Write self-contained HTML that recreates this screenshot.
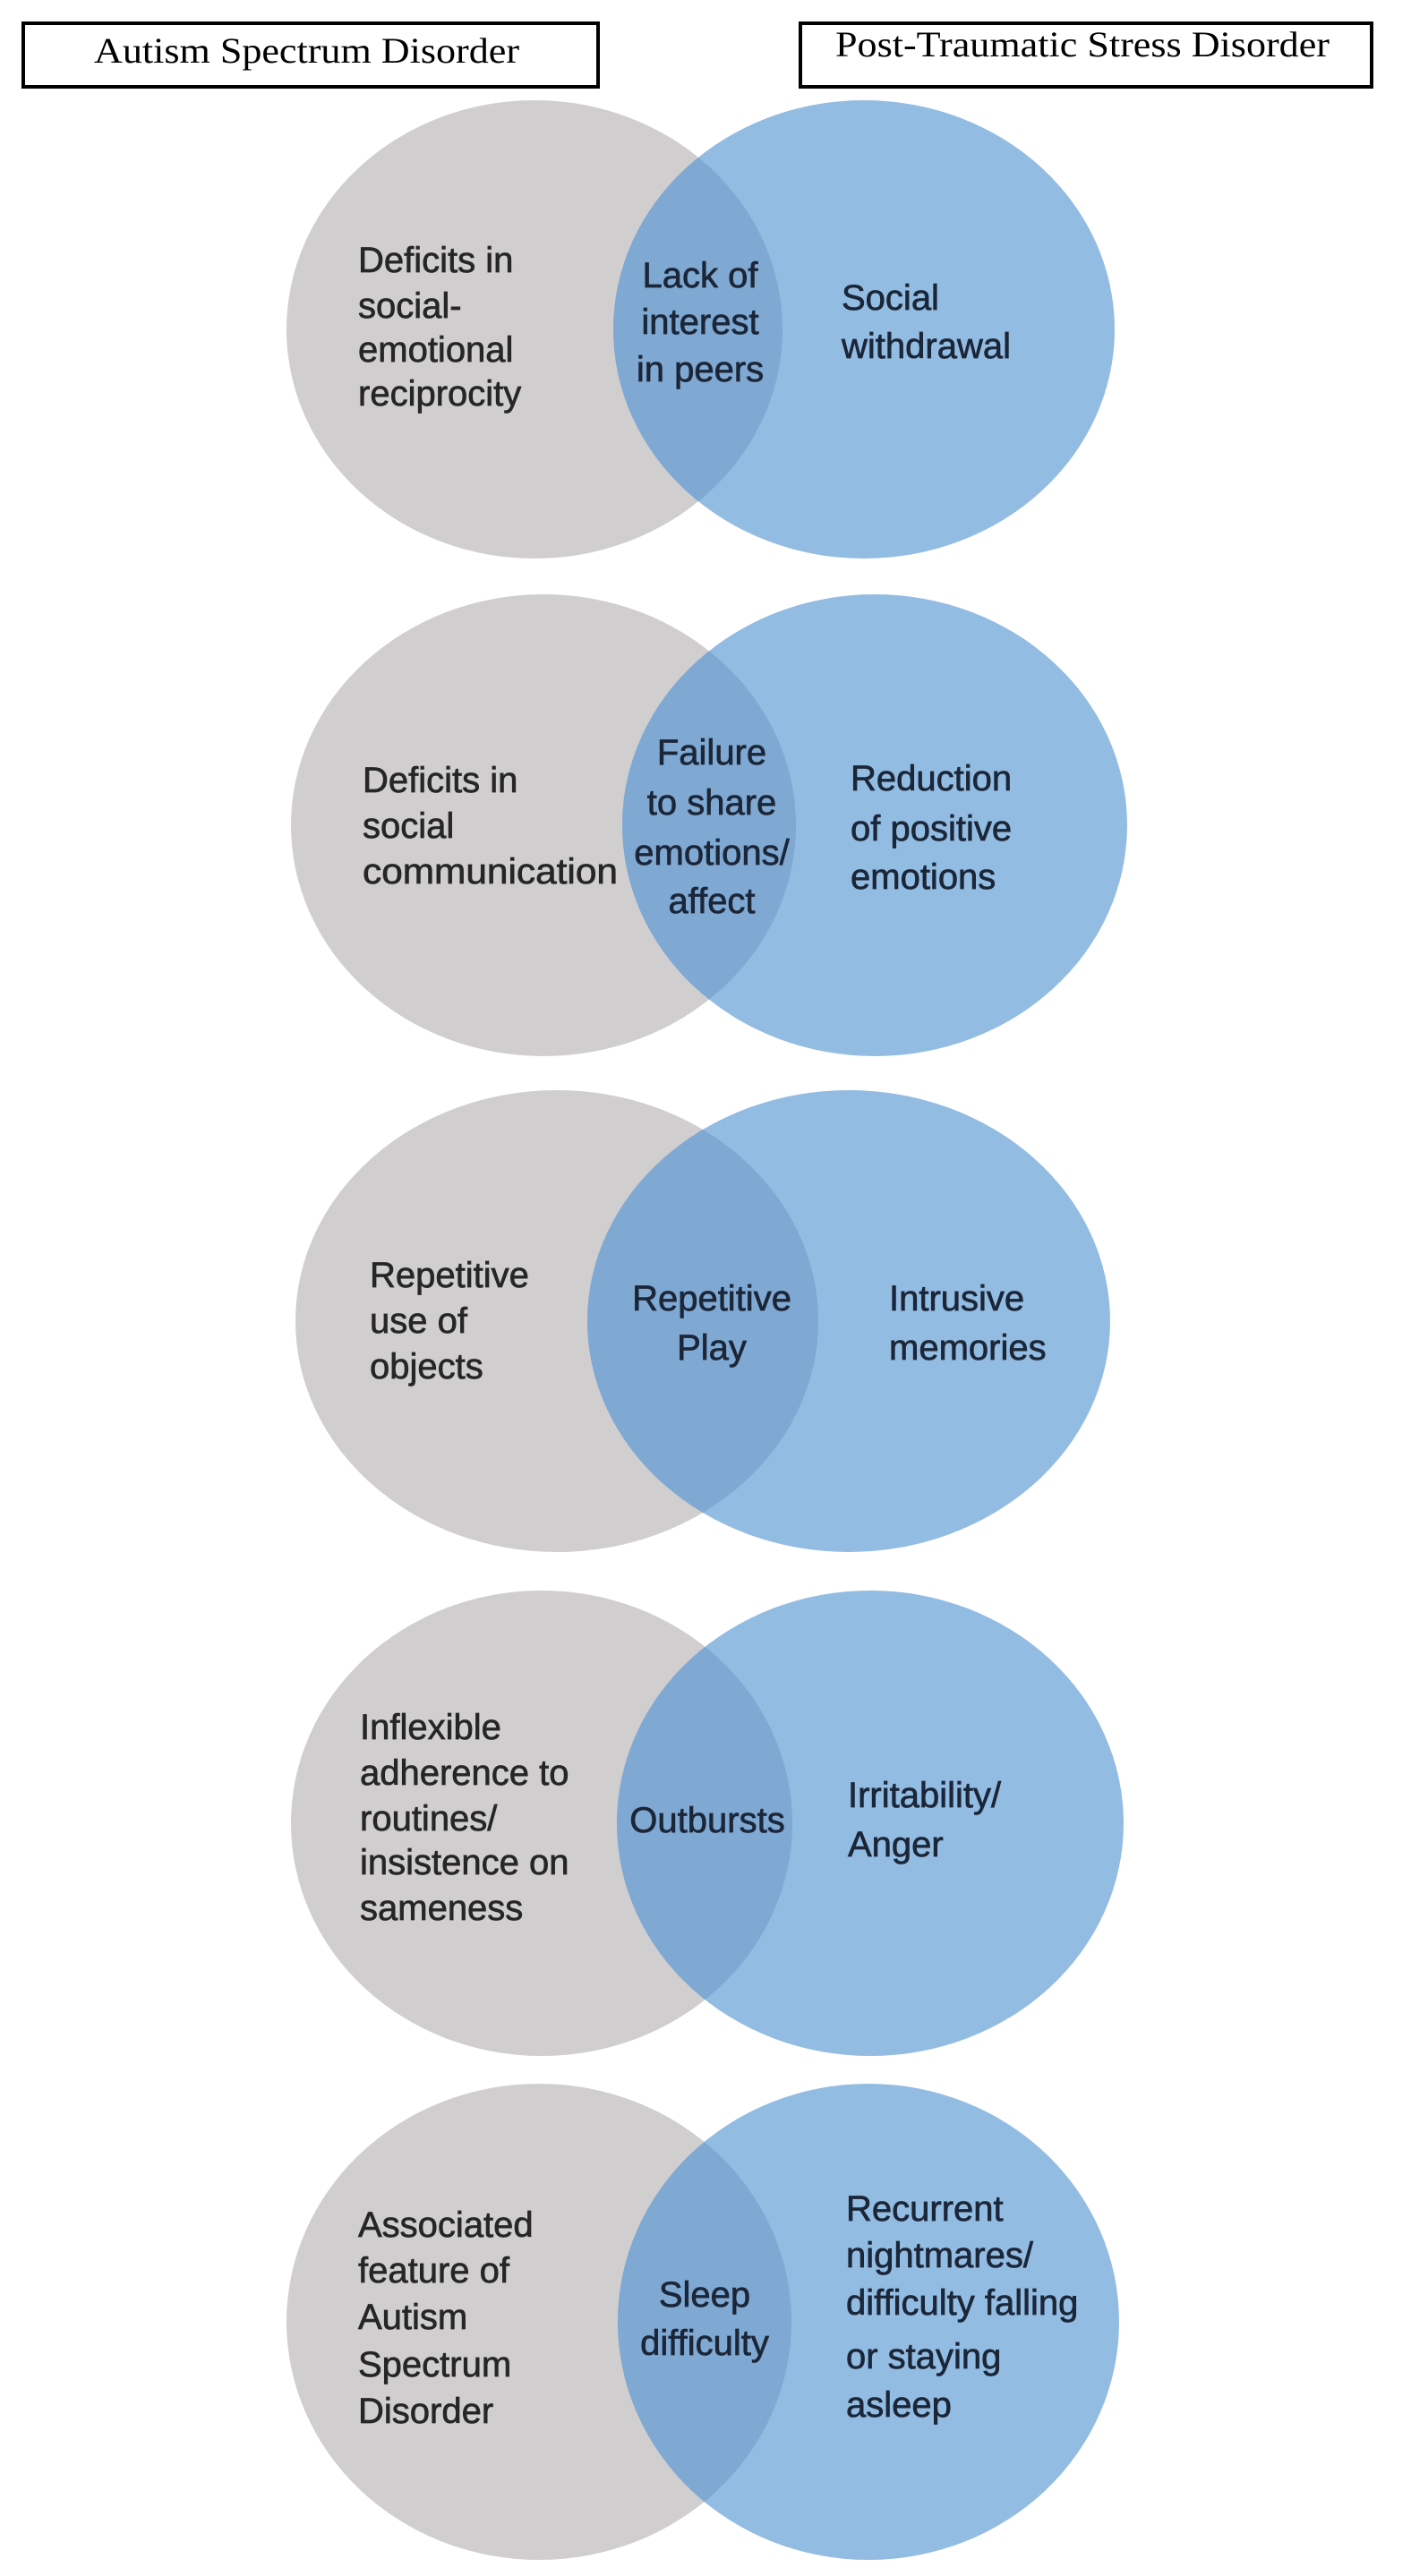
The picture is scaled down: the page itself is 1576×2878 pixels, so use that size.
<!DOCTYPE html>
<html><head><meta charset="utf-8"><style>
html,body{margin:0;padding:0;background:#fff;}
svg{display:block;}
.t{font-family:"Liberation Sans",sans-serif;font-size:40px;fill:#262626;stroke:#262626;stroke-width:0.7;}
.b{fill:#1b2638;stroke:#1b2638;}
.h{font-family:"Liberation Serif",serif;font-size:40px;fill:#000;}
</style></head><body>
<svg width="1576" height="2878" viewBox="0 0 1576 2878" xmlns="http://www.w3.org/2000/svg">
<rect x="26" y="26" width="642" height="71" fill="#fff" stroke="#000" stroke-width="4"/>
<rect x="894" y="26" width="638" height="71" fill="#fff" stroke="#000" stroke-width="4"/>
<text class="h" x="105" y="70" textLength="475" lengthAdjust="spacingAndGlyphs">Autism Spectrum Disorder</text>
<text class="h" x="933" y="63" textLength="552" lengthAdjust="spacingAndGlyphs">Post-Traumatic Stress Disorder</text>
<defs>
<clipPath id="c1"><ellipse cx="597" cy="368" rx="277" ry="256"/></clipPath>
<clipPath id="c2"><ellipse cx="607" cy="922" rx="282" ry="258"/></clipPath>
<clipPath id="c3"><ellipse cx="622" cy="1476" rx="292" ry="258"/></clipPath>
<clipPath id="c4"><ellipse cx="605" cy="2037" rx="280" ry="260"/></clipPath>
<clipPath id="c5"><ellipse cx="602" cy="2594" rx="282" ry="266"/></clipPath>
</defs>
<ellipse cx="597" cy="368" rx="277" ry="256" fill="#d0cecf"/>
<ellipse cx="965" cy="368" rx="280" ry="256" fill="#93bce2"/>
<ellipse cx="965" cy="368" rx="280" ry="256" fill="#7fa8d2" clip-path="url(#c1)"/>
<ellipse cx="607" cy="922" rx="282" ry="258" fill="#d0cecf"/>
<ellipse cx="977" cy="922" rx="282" ry="258" fill="#93bce2"/>
<ellipse cx="977" cy="922" rx="282" ry="258" fill="#7fa8d2" clip-path="url(#c2)"/>
<ellipse cx="622" cy="1476" rx="292" ry="258" fill="#d0cecf"/>
<ellipse cx="948" cy="1476" rx="292" ry="258" fill="#93bce2"/>
<ellipse cx="948" cy="1476" rx="292" ry="258" fill="#7fa8d2" clip-path="url(#c3)"/>
<ellipse cx="605" cy="2037" rx="280" ry="260" fill="#d0cecf"/>
<ellipse cx="972" cy="2037" rx="283" ry="260" fill="#93bce2"/>
<ellipse cx="972" cy="2037" rx="283" ry="260" fill="#7fa8d2" clip-path="url(#c4)"/>
<ellipse cx="602" cy="2594" rx="282" ry="266" fill="#d0cecf"/>
<ellipse cx="970" cy="2594" rx="280" ry="266" fill="#93bce2"/>
<ellipse cx="970" cy="2594" rx="280" ry="266" fill="#7fa8d2" clip-path="url(#c5)"/>

<text class="t" x="400" y="304">Deficits in</text>
<text class="t" x="400" y="355">social-</text>
<text class="t" x="400" y="404">emotional</text>
<text class="t" x="400" y="453">reciprocity</text>
<g class="t b" text-anchor="middle">
<text x="782" y="321">Lack of</text>
<text x="782" y="373">interest</text>
<text x="782" y="426">in peers</text>
</g>
<text class="t b" x="940" y="346">Social</text>
<text class="t b" x="940" y="400">withdrawal</text>

<text class="t" x="405" y="885">Deficits in</text>
<text class="t" x="405" y="936">social</text>
<text class="t" x="405" y="987" textLength="285" lengthAdjust="spacingAndGlyphs">communication</text>
<g class="t b" text-anchor="middle">
<text x="795" y="854">Failure</text>
<text x="795" y="910">to share</text>
<text x="795" y="966">emotions/</text>
<text x="795" y="1020">affect</text>
</g>
<text class="t b" x="950" y="883">Reduction</text>
<text class="t b" x="950" y="939">of positive</text>
<text class="t b" x="950" y="993">emotions</text>

<text class="t" x="413" y="1438">Repetitive</text>
<text class="t" x="413" y="1489">use of</text>
<text class="t" x="413" y="1540">objects</text>
<g class="t b" text-anchor="middle">
<text x="795" y="1464">Repetitive</text>
<text x="795" y="1519">Play</text>
</g>
<text class="t b" x="993" y="1464">Intrusive</text>
<text class="t b" x="993" y="1519">memories</text>

<text class="t" x="402" y="1943">Inflexible</text>
<text class="t" x="402" y="1994">adherence to</text>
<text class="t" x="402" y="2045">routines/</text>
<text class="t" x="402" y="2094">insistence on</text>
<text class="t" x="402" y="2145">sameness</text>
<text class="t b" x="790" y="2047" text-anchor="middle">Outbursts</text>
<text class="t b" x="947" y="2019">Irritability/</text>
<text class="t b" x="947" y="2074">Anger</text>

<text class="t" x="400" y="2499">Associated</text>
<text class="t" x="400" y="2550">feature of</text>
<text class="t" x="400" y="2602">Autism</text>
<text class="t" x="400" y="2655">Spectrum</text>
<text class="t" x="400" y="2707">Disorder</text>
<g class="t b" text-anchor="middle">
<text x="787" y="2577">Sleep</text>
<text x="787" y="2631">difficulty</text>
</g>
<text class="t b" x="945" y="2481">Recurrent</text>
<text class="t b" x="945" y="2533">nightmares/</text>
<text class="t b" x="945" y="2586">difficulty falling</text>
<text class="t b" x="945" y="2646">or staying</text>
<text class="t b" x="945" y="2700">asleep</text>
</svg>
</body></html>
